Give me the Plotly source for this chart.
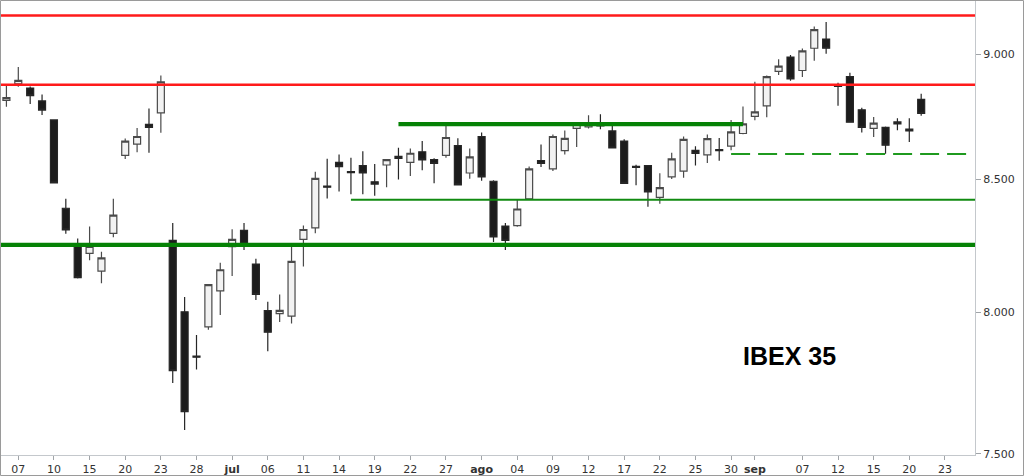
import pandas as pd
import plotly.graph_objects as go

# ---- data (IBEX 35, daily, 2016-06-06 .. 2016-09-21) ----
start_date = "2016-06-06"
end_axis_date = "2016-09-23"

opens = [8812, 8879, 8862, 8810, 8734, 8389, 8244, 8218, 8152, 8293,
         8594, 8638, 8716, 8762, 8267, 8002, 7842, 7947, 8079, 8243,
         8305, 8178, 8006, 7995, 7986, 8271, 8314, 8474, 8566, 8530,
         8554, 8491, 8556, 8590, 8566, 8608, 8577, 8594, 8632, 8525,
         8668, 8493, 8321, 8323, 8425, 8573, 8541, 8612, 8700, 8706,
         8714, 8690, 8650, 8551, 8554, 8431, 8510, 8532, 8613, 8596,
         8616, 8630, 8680, 8748, 8790, 8929, 8988, 8933, 9024, 9062,
         8876, 8908, 8774, 8700, 8704, 8726, 8697, 8816]
highs = [8874, 8947, 8868, 8836, 8735, 8425, 8274, 8319, 8224, 8425,
         8660, 8702, 8779, 8913, 8333, 8056, 7918, 8104, 8183, 8309,
         8333, 8198, 8039, 8065, 8253, 8323, 8530, 8581, 8597, 8584,
         8610, 8560, 8579, 8624, 8621, 8650, 8582, 8717, 8661, 8621,
         8684, 8497, 8333, 8421, 8550, 8636, 8676, 8692, 8722, 8752,
         8756, 8713, 8657, 8557, 8556, 8524, 8604, 8668, 8630, 8676,
         8662, 8734, 8787, 8887, 8913, 8979, 8996, 9023, 9114, 9133,
         8883, 8924, 8782, 8745, 8708, 8740, 8740, 8839]
lows = [8786, 8867, 8797, 8753, 8485, 8292, 8124, 8192, 8107, 8279,
        8580, 8606, 8604, 8683, 7746, 7582, 7794, 7937, 7990, 8134,
        8231, 8045, 7859, 7965, 7959, 8169, 8294, 8426, 8453, 8443,
        8443, 8437, 8470, 8500, 8513, 8536, 8485, 8584, 8479, 8503,
        8495, 8261, 8231, 8318, 8422, 8548, 8533, 8597, 8627, 8700,
        8697, 8622, 8484, 8477, 8395, 8406, 8502, 8506, 8554, 8564,
        8573, 8614, 8677, 8733, 8744, 8915, 8891, 8907, 8973, 9001,
        8790, 8723, 8684, 8666, 8600, 8693, 8646, 8750]
closes = [8823, 8893, 8831, 8773, 8487, 8307, 8128, 8244, 8201, 8363,
          8650, 8668, 8704, 8887, 7790, 7646, 7838, 8102, 8157, 8271,
          8253, 8066, 7928, 8007, 8188, 8308, 8504, 8470, 8550, 8526,
          8525, 8482, 8577, 8582, 8602, 8576, 8562, 8664, 8479, 8588,
          8510, 8280, 8267, 8386, 8541, 8562, 8668, 8661, 8717, 8718,
          8710, 8623, 8485, 8547, 8452, 8468, 8580, 8657, 8601, 8660,
          8612, 8686, 8718, 8766, 8908, 8951, 8899, 9013, 9101, 9024,
          8868, 8725, 8704, 8721, 8634, 8718, 8690, 8760]

tick_dates = ["2016-06-07", "2016-06-10", "2016-06-15", "2016-06-20", "2016-06-23",
              "2016-06-28", "2016-07-01", "2016-07-06", "2016-07-11", "2016-07-14",
              "2016-07-19", "2016-07-22", "2016-07-27", "2016-08-01", "2016-08-04",
              "2016-08-09", "2016-08-12", "2016-08-17", "2016-08-22", "2016-08-25",
              "2016-08-30", "2016-09-01", "2016-09-07", "2016-09-12", "2016-09-15",
              "2016-09-20", "2016-09-23"]
tick_labels = ["07", "10", "15", "20", "23", "28", "<b>jul</b>", "06", "11", "14",
               "19", "22", "27", "<b>ago</b>", "04", "09", "12", "17", "22", "25",
               "30", "<b>sep</b>", "07", "12", "15", "20", "23"]

y_tick_vals = [7500, 8000, 8500, 9000]
y_tick_text = ["7.500", "8.000", "8.500", "9.000"]

# support / resistance levels: (level, start date, end date)
red_levels = [9160, 8875]
green_thick = [(8250, "2016-06-06", "2016-09-23"), (8717, "2016-07-21", "2016-08-31")]
green_thin = [(8422, "2016-07-15", "2016-09-23")]
green_dashed = [(8599, "2016-08-30", "2016-09-23")]

title_text = "IBEX 35"

# ---- build ----
bdays = pd.bdate_range(start_date, end_axis_date)
pos = {d.strftime("%Y-%m-%d"): i for i, d in enumerate(bdays)}
x = list(range(len(opens)))
tick_pos = [pos[d] for d in tick_dates]

fig = go.Figure()
fig.add_trace(go.Candlestick(
    x=x, open=opens, high=highs, low=lows, close=closes,
    increasing=dict(fillcolor="#f2f2f2", line=dict(color="#4a4a4a", width=1.2)),
    decreasing=dict(fillcolor="#1c1c1c", line=dict(color="#262626", width=1.2)),
    whiskerwidth=0, showlegend=False, hoverinfo="skip",
))

x_lo, x_hi = -0.54, 81.53

def add_level(level, x0, x1, color, width, dash="solid"):
    fig.add_trace(go.Scatter(x=[x0, x1], y=[level, level], mode="lines",
                             line=dict(color=color, width=width, dash=dash),
                             showlegend=False, hoverinfo="skip"))

for lv in red_levels:
    add_level(lv, x_lo - 1, x_hi + 1, "#ff1a1a", 2.6)
for lv, d0, d1 in green_thick:
    x0 = pos[d0] if d0 != start_date else x_lo - 1
    x1 = pos[d1] if d1 != end_axis_date else x_hi + 1
    add_level(lv, x0, x1, "#058205", 4.2)
for lv, d0, d1 in green_thin:
    add_level(lv, pos[d0], x_hi + 1, "#118a11", 2)
for lv, d0, d1 in green_dashed:
    add_level(lv, pos[d0], pos[d1] + 1.9, "#1f9a1f", 2, "19px,8px")

fig.add_annotation(text="<b>" + title_text + "</b>", xref="paper", yref="paper",
                   x=0.810, y=0.218, xanchor="center", yanchor="middle", showarrow=False,
                   font=dict(family="Liberation Sans, Arial", size=25, color="#000000"))

# outer frame of the image
fig.add_shape(type="rect", xref="paper", yref="paper",
              x0=0.5 / 975, x1=1023.5 / 975, y0=-20.5 / 455, y1=454.5 / 455,
              line=dict(color="#9a9a9a", width=1), layer="above")

fig.update_layout(
    width=1024, height=476,
    margin=dict(l=0, r=49, t=0, b=21),
    paper_bgcolor="white", plot_bgcolor="white",
    boxgap=0.16,
    xaxis=dict(range=[x_lo, x_hi], tickvals=tick_pos, ticktext=tick_labels,
               showgrid=False, zeroline=False, rangeslider=dict(visible=False),
               showline=True, linecolor="#c4c8cc", linewidth=1,
               ticks="outside", ticklen=4, tickcolor="#a0a4a8",
               tickfont=dict(family="DejaVu Sans, Verdana", size=11, color="#333333")),
    yaxis=dict(type="log", range=[3.87483, 3.96496], side="right",
               tickvals=y_tick_vals, ticktext=y_tick_text,
               showgrid=False, zeroline=False,
               showline=True, linecolor="#c4c8cc", linewidth=1,
               ticks="outside", ticklen=5, tickcolor="#a0a4a8",
               tickfont=dict(family="DejaVu Sans, Verdana", size=11, color="#333333")),
)

fig.write_html("out.html")
